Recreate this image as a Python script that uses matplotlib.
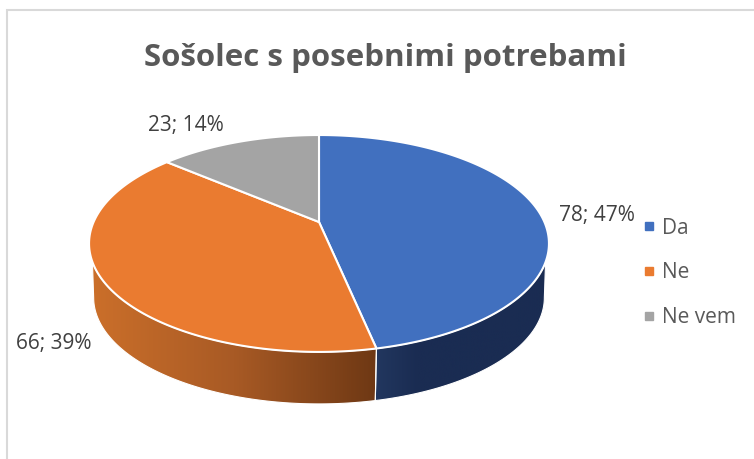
import numpy as np
import matplotlib
matplotlib.use("Agg")
import matplotlib.pyplot as plt
from matplotlib.colors import LinearSegmentedColormap
from matplotlib.lines import Line2D
from matplotlib.patches import Polygon

plt.rcParams['font.family'] = ['Open Sans', 'DejaVu Sans']

title = "Sošolec s posebnimi potrebami"
categories = ["Da", "Ne", "Ne vem"]
values = [78, 66, 23]
percents = [47, 39, 14]
colors = ["#4170BF", "#EA7B30", "#A4A4A4"]
wall_colors = [["#22375f", "#1a2c52", "#1a2c52", "#1a2c52", "#1a2c52"],
               ["#cb6f2a", "#a85a25", "#6e3814"]]
label_pos = [(597, 215), (54, 344), (186, 125)]

# perspective of the tilted disc, in pixels
cx, cy = 319, 222
bx, by, k = 225.4, 104.2, 0.198
wall_y, wall_s = 276.6, 0.98
wall_top = np.radians(110.9)   # where the rim meets the silhouette
wall_low = np.radians(101.4)   # side extreme of the lower ring


def project(theta, yc=cy, s=1.0):
    # theta clockwise from the top of the disc
    u, v = np.sin(theta), np.cos(theta)
    d = 1 + k * v
    return cx + s * bx * u / d, yc - s * by * v / d


fig = plt.figure(figsize=(7.54, 4.59), dpi=100)
ax = fig.add_axes([0, 0, 1, 1])

edges = np.radians(np.concatenate([[0], np.cumsum(values)]) / sum(values) * 360)

# side wall, only the front part shows
walls = [(wall_top, wall_low, edges[1], wall_colors[0]),
         (edges[1], edges[1], 2 * np.pi - wall_top, wall_colors[1])]
for n, (a, b, c, cols) in enumerate(walls):
    if n == 0:
        t1 = np.linspace(a, c, 120)
        t2 = np.linspace(c, b, 120)
    else:
        t1 = np.linspace(a, c, 120)
        t2 = np.linspace(2 * np.pi - wall_low, b, 120)
    x1, y1 = project(t1)
    x2, y2 = project(t2, wall_y, wall_s)
    pts = np.column_stack([np.r_[x1, x2], np.r_[y1, y2]])
    grad = np.linspace(0, 1, 256).reshape(1, -1)
    cmap = LinearSegmentedColormap.from_list("wall", cols)
    im = ax.imshow(grad, cmap=cmap, aspect="auto",
                   extent=[pts[:, 0].min(), pts[:, 0].max(), pts[:, 1].max(), pts[:, 1].min()])
    poly = Polygon(pts, transform=ax.transData, fc="none", ec="white", lw=0.8, zorder=2)
    ax.add_patch(poly)
    im.set_clip_path(poly)

# top face
for i in range(len(values)):
    t = np.linspace(edges[i], edges[i + 1], 200)
    x, y = project(t)
    ax.fill(np.r_[cx, x], np.r_[cy, y], color=colors[i], ec="white", lw=1.5,
            joinstyle="round", zorder=3)

# data labels
for i in range(len(values)):
    ax.text(label_pos[i][0], label_pos[i][1], f"{values[i]}; {percents[i]}%",
            fontsize=15, color="#404040", ha="center", va="center")

ax.text(385, 58, title, fontsize=22.5, fontweight="bold", color="#595959",
        ha="center", va="center")

# chart border, only top and left are in the crop
ax.plot([7, 7, 754], [459, 10, 10], color="#d9d9d9", lw=1.5, solid_joinstyle="miter")

handles = [Line2D([], [], ls="none", marker="s", ms=6, color=c) for c in colors]
ax.legend(handles, categories, loc="center left", bbox_to_anchor=(635 / 754, 1 - 273 / 459),
          frameon=False, fontsize=15, labelcolor="#595959", labelspacing=1.15,
          handletextpad=0, handlelength=1.3, borderpad=0, borderaxespad=0)

ax.set_xlim(0, 754)
ax.set_ylim(459, 0)
ax.axis("off")
fig.savefig("out.png", dpi=100)
